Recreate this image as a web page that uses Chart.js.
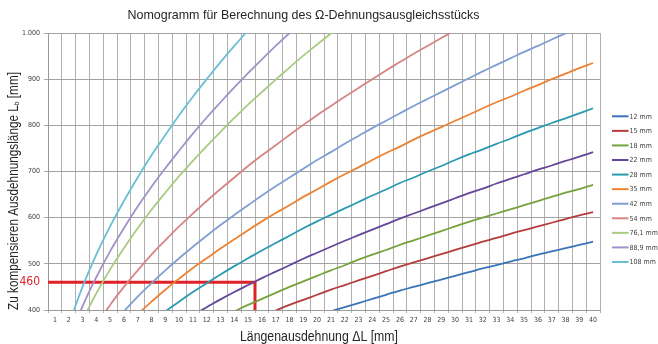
<!DOCTYPE html>
<html lang="de">
<head>
<meta charset="utf-8">
<title>Nomogramm Ω-Dehnungsausgleichsstück</title>
<script src="https://cdn.jsdelivr.net/npm/chart.js@4.4.1/dist/chart.umd.min.js"></script>
<style>
  html, body { margin: 0; padding: 0; background: #ffffff; }
  #wrap { width: 658px; height: 344px; position: relative; }
</style>
</head>
<body>
<div id="wrap"><canvas id="c" width="658" height="344"></canvas></div>
<script>
// Längenausdehnung ΔL [mm] (categories)
const dL = ['1','2','3','4','5','6','7','8','9','10','11','12','13','14','15','16','17','18','19','20',
            '21','22','23','24','25','26','27','28','29','30','31','32','33','34','35','36','37','38','39','40'];

// Ausdehnungslänge Lb [mm] per pipe diameter, one value per ΔL
const s12  = [null,null,null,null,null,null,null,null,null,null,null,null,null,null,null,null,null,null,null,
              387,397,406,415,424,433,442,450,458,466,474,482,490,497,505,512,520,527,534,541,548];
const s15  = [null,null,null,null,null,null,null,null,null,null,null,null,null,null,null,
              387,399,411,422,433,444,454,464,474,484,494,503,512,521,530,539,548,556,565,573,581,589,597,605,612];
const s18  = [null,null,null,null,null,null,null,null,null,null,null,null,null,
              397,411,424,437,450,462,474,486,497,509,520,530,541,551,561,571,581,591,600,609,618,627,636,645,654,662,671];
const s22  = [null,null,null,null,null,null,null,null,null,null,
              389,406,423,439,454,469,483,497,511,524,537,550,562,574,586,598,609,620,631,642,653,663,674,684,694,704,713,723,732,742];
const s28  = [null,null,null,null,null,null,null,null,
              397,418,439,458,477,495,512,529,545,561,577,592,606,620,634,648,661,675,687,700,712,725,737,748,760,771,783,794,805,815,826,837];
const s35  = [null,null,null,null,null,null,
              391,418,444,468,491,512,533,553,573,592,610,627,645,661,678,694,709,725,740,754,769,783,796,810,823,837,850,862,875,887,900,912,924,935];
const s42  = [null,null,null,null,null,
              397,429,458,486,512,537,561,584,606,627,648,668,687,706,725,742,760,777,794,810,826,842,857,872,887,902,917,931,945,959,972,986,999,1012,null];
const s54  = [null,null,null,
              367,411,450,486,520,551,581,609,636,662,687,712,735,757,779,801,822,842,862,881,900,919,937,955,972,989,1006,
              null,null,null,null,null,null,null,null,null,null];
const s76  = [null,null,
              378,436,488,534,577,617,654,690,723,755,786,816,845,872,899,925,951,975,999,1023,
              null,null,null,null,null,null,null,null,null,null,null,null,null,null,null,null,null,null];
const s89  = [null,
              333,408,471,527,577,624,667,707,745,782,817,850,882,913,943,972,1000,1027,
              null,null,null,null,null,null,null,null,null,null,null,null,null,null,null,null,null,null,null,null,null];
const s108 = [null,
              367,450,520,581,636,687,735,779,822,862,900,937,972,1006,
              null,null,null,null,null,null,null,null,null,null,null,null,null,null,null,null,null,null,null,null,null,null,null,null,null];

const seriesNames = ['12 mm','15 mm','18 mm','22 mm','28 mm','35 mm','42 mm','54 mm','76,1 mm','88,9 mm','108 mm'];
const seriesData  = [s12, s15, s18, s22, s28, s35, s42, s54, s76, s89, s108];
const seriesColors = ['#3a73b8','#b43c3a','#76a23b','#65479a','#2a9ab0','#ee8233',
                      '#7f9fd2','#d68585','#a8cb80','#a291c8','#6bbfd3'];

// y-axis ticks [mm]
const yTicks = [400, 500, 600, 700, 800, 900, 1000];

// worked example: 22 mm pipe, ΔL read at Lb = 460 mm
const exampleL  = 460;
const exampleDL = 15.5;

const FONT = "'DejaVu Sans Condensed', 'Liberation Sans', sans-serif";
const TITLE_FONT = "'Liberation Sans', Arial, sans-serif";

const datasets = seriesData.map((d, i) => ({
  label: seriesNames[i],
  data: d,
  borderColor: seriesColors[i],
  backgroundColor: seriesColors[i],
  borderWidth: 1.8,
  pointRadius: 0,
  pointHoverRadius: 0,
  tension: 0.4,
  spanGaps: false,
  xAxisID: 'x',
  yAxisID: 'y'
}));

datasets.push({
  label: 'Beispiel',
  data: [{x: 0.5, y: exampleL}, {x: exampleDL, y: exampleL}, {x: exampleDL, y: yTicks[0]}],
  borderColor: '#e02228',
  borderWidth: 3,
  pointRadius: 0,
  tension: 0,
  xAxisID: 'xm',
  yAxisID: 'y',
  clip: 4
});

// draw a condensed text run of a given overall width, centred on (cx, cy)
function condensedText(ctx, parts, cx, cy, width) {
  let total = 0;
  parts.forEach(p => { ctx.font = p.size + 'px ' + TITLE_FONT; p.w = ctx.measureText(p.text).width; total += p.w; });
  const sx = width / total;
  ctx.save();
  ctx.translate(cx, cy);
  ctx.scale(sx, 1);
  ctx.textAlign = 'left';
  ctx.textBaseline = 'middle';
  let x = -total / 2;
  parts.forEach(p => {
    ctx.font = p.size + 'px ' + TITLE_FONT;
    ctx.fillText(p.text, x, p.dy || 0);
    x += p.w;
  });
  ctx.restore();
}

// titles and legend drawn on the canvas
const decorations = {
  id: 'decorations',
  afterDraw(chart) {
    const ctx = chart.ctx;
    ctx.save();
    ctx.fillStyle = '#262626';

    // chart title
    condensedText(ctx, [{ text: 'Nomogramm für Berechnung des Ω-Dehnungsausgleichsstücks', size: 13 }], 303.5, 15, 352);

    // x-axis title
    condensedText(ctx, [{ text: 'Längenausdehnung ΔL [mm]', size: 14 }], 319, 337, 158);

    // y-axis title with subscript b
    ctx.save();
    ctx.translate(14, 191);
    ctx.rotate(-Math.PI / 2);
    condensedText(ctx, [
      { text: 'Zu kompensieren Ausdehnungslänge L', size: 14 },
      { text: 'b', size: 8, dy: 3 },
      { text: ' [mm]', size: 14 }
    ], 0, 0, 238);
    ctx.restore();
    ctx.restore();

    // legend
    ctx.save();
    ctx.font = '7px ' + FONT;
    ctx.textAlign = 'left';
    ctx.textBaseline = 'middle';
    const lx = 612, lw = 16.5, ly = 116.3, step = 14.57;
    seriesNames.forEach((name, i) => {
      const y = ly + i * step;
      ctx.strokeStyle = seriesColors[i];
      ctx.lineWidth = 2;
      ctx.beginPath();
      ctx.moveTo(lx, y);
      ctx.lineTo(lx + lw, y);
      ctx.stroke();
      ctx.fillStyle = '#404040';
      ctx.fillText(name, lx + lw + 1, y + 0.5);
    });
    ctx.restore();
  }
};

new Chart(document.getElementById('c'), {
  type: 'line',
  data: { labels: dL, datasets },
  options: {
    responsive: false,
    animation: false,
    events: [],
    layout: { padding: { top: 33, right: 58, left: 0, bottom: 0 } },
    plugins: {
      legend: { display: false },
      title: { display: false },
      tooltip: { enabled: false }
    },
    scales: {
      x: {
        type: 'category',
        offset: true,
        afterFit(s) { s.height = 34; },
        grid: { offset: true, color: '#b0b0b0', lineWidth: 1, tickLength: 3, drawTicks: true },
        border: { color: '#9a9a9a', width: 1 },
        ticks: {
          autoSkip: false, maxRotation: 0, minRotation: 0, padding: 3,
          color: '#404040', font: { family: FONT, size: 7 }
        }
      },
      xm: {
        type: 'linear',
        display: false,
        min: 0.5,
        max: 40.5
      },
      y: {
        type: 'linear',
        min: yTicks[0],
        max: yTicks[yTicks.length - 1],
        afterFit(s) { s.width = 48; },
        afterBuildTicks(s) {
          s.ticks = yTicks.concat([exampleL]).sort((a, b) => a - b).map(v => ({ value: v }));
        },
        grid: {
          color: c => (c.tick && c.tick.value === exampleL) ? 'rgba(0,0,0,0)' : '#a3a3a3',
          tickColor: c => (c.tick && c.tick.value === exampleL) ? 'rgba(0,0,0,0)' : '#a3a3a3',
          lineWidth: 1,
          tickLength: 4
        },
        border: { color: '#9a9a9a', width: 1 },
        ticks: {
          padding: 4,
          color: c => (c.tick && c.tick.value === exampleL) ? '#e02228' : '#404040',
          font: c => (c.tick && c.tick.value === exampleL) ? { family: FONT, size: 12 } : { family: FONT, size: 7 },
          callback: v => v.toLocaleString('de-DE')
        }
      }
    }
  },
  plugins: [decorations]
});
</script>
</body>
</html>
